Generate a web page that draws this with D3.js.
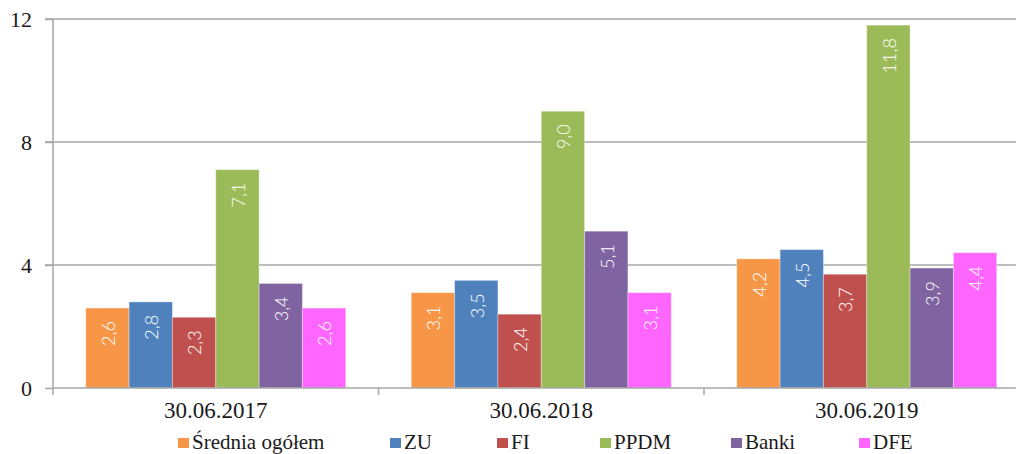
<!DOCTYPE html>
<html>
<head>
<meta charset="utf-8">
<script src="https://cdn.jsdelivr.net/npm/d3@7"></script>
<style>
  body { margin: 0; background: #fff; }
  svg { display: block; }
</style>
</head>
<body>
<div id="chart"></div>
<script>
const categories = ["30.06.2017", "30.06.2018", "30.06.2019"];
const seriesNames = ["Średnia ogółem", "ZU", "FI", "PPDM", "Banki", "DFE"];
const seriesColors = ["#F79646", "#4F81BD", "#C0504D", "#9BBB59", "#8064A2", "#FF66FF"];
const sredniaValues = [2.6, 3.1, 4.2];
const zuValues = [2.8, 3.5, 4.5];
const fiValues = [2.3, 2.4, 3.7];
const ppdmValues = [7.1, 9.0, 11.8];
const bankiValues = [3.4, 5.1, 3.9];
const dfeValues = [2.6, 3.1, 4.4];
const yTicks = [0, 4, 8, 12];
const legendX = [178, 390, 497, 600, 731, 859];

const allValues = [sredniaValues, zuValues, fiValues, ppdmValues, bankiValues, dfeValues];

var width = 1016, height = 454;
var plotLeft = 53, plotTop = 19, plotBottom = 388, bandW = 325.5;

var svg = d3.select("#chart")
  .append("svg")
  .attr("width", width)
  .attr("height", height);

var x0 = d3.scaleBand()
  .domain(categories)
  .range([plotLeft, plotLeft + bandW * categories.length]);

var x1 = d3.scaleBand()
  .domain(seriesNames)
  .range([32.75, bandW - 32.75]);

var y = d3.scaleLinear()
  .domain([0, 12])
  .range([plotBottom, plotTop]);

// grid lines
svg.append("g")
  .selectAll("line")
  .data(yTicks.filter(d => d > 0))
  .enter()
  .append("line")
    .attr("x1", plotLeft - 8)
    .attr("x2", width)
    .attr("y1", d => y(d))
    .attr("y2", d => y(d))
    .attr("stroke", "#a6a6a6")
    .attr("stroke-width", 1.5);

// Y axis
var yAxis = svg.append("g")
  .attr("transform", "translate(" + plotLeft + ",0)")
  .call(d3.axisLeft(y).tickValues(yTicks).tickSize(8).tickPadding(13).tickFormat(d3.format("d")));
yAxis.select(".domain").remove();
yAxis.append("line")
  .attr("x1", 0).attr("x2", 0)
  .attr("y1", plotTop).attr("y2", plotBottom + 7)
  .attr("stroke", "#a6a6a6").attr("stroke-width", 1.5);
yAxis.selectAll(".tick line").attr("stroke", "#a6a6a6").attr("stroke-width", 1.5);
yAxis.selectAll("text")
  .attr("fill", "#1a1a1a")
  .style("font-family", "'Liberation Serif', serif")
  .style("font-size", "22px");

// bars
var groups = svg.append("g")
  .selectAll("g")
  .data(categories)
  .enter()
  .append("g")
    .attr("transform", d => "translate(" + x0(d) + ",0)");

groups.selectAll("rect")
  .data((d, i) => seriesNames.map((s, j) => ({ s: s, v: allValues[j][i], c: seriesColors[j] })))
  .enter()
  .append("rect")
    .attr("x", d => x1(d.s))
    .attr("y", d => y(d.v))
    .attr("width", x1.bandwidth())
    .attr("height", d => plotBottom - y(d.v))
    .attr("fill", d => d.c)
    .attr("stroke", "rgba(255,255,255,0.35)")
    .attr("stroke-width", 1);

groups.selectAll("text")
  .data((d, i) => seriesNames.map((s, j) => ({ s: s, v: allValues[j][i] })))
  .enter()
  .append("text")
    .attr("transform", d => "translate(" + (x1(d.s) + x1.bandwidth() / 2 + 1) + "," + (y(d.v) + 13) + ") rotate(-90)")
    .attr("text-anchor", "end")
    .attr("dy", "0.35em")
    .attr("fill", "#fff")
    .style("font-family", "Lato, sans-serif")
    .style("font-weight", "300")
    .style("font-size", "18px")
    .text(d => d3.format(".1f")(d.v).replace(".", ","));

// X axis
svg.append("line")
  .attr("x1", plotLeft).attr("x2", width)
  .attr("y1", plotBottom).attr("y2", plotBottom)
  .attr("stroke", "#a6a6a6").attr("stroke-width", 1.5);

svg.append("g")
  .selectAll("line")
  .data(categories.slice(1))
  .enter()
  .append("line")
    .attr("x1", d => x0(d)).attr("x2", d => x0(d))
    .attr("y1", plotBottom).attr("y2", plotBottom + 7)
    .attr("stroke", "#a6a6a6").attr("stroke-width", 1.5);

svg.append("g")
  .selectAll("text")
  .data(categories)
  .enter()
  .append("text")
    .attr("x", d => x0(d) + bandW / 2)
    .attr("y", 418)
    .attr("text-anchor", "middle")
    .attr("fill", "#1a1a1a")
    .style("font-family", "'Liberation Serif', serif")
    .style("font-size", "23px")
    .text(d => d);

// legend
var legend = svg.append("g")
  .selectAll("g")
  .data(seriesNames)
  .enter()
  .append("g")
    .attr("transform", (d, i) => "translate(" + legendX[i] + ",438)");

legend.append("rect")
  .attr("width", 11).attr("height", 10)
  .attr("fill", (d, i) => seriesColors[i]);

legend.append("text")
  .attr("x", 14)
  .attr("y", 11)
  .attr("fill", "#1a1a1a")
  .style("font-family", "'Liberation Serif', serif")
  .style("font-size", "21px")
  .text(d => d);
</script>
</body>
</html>
